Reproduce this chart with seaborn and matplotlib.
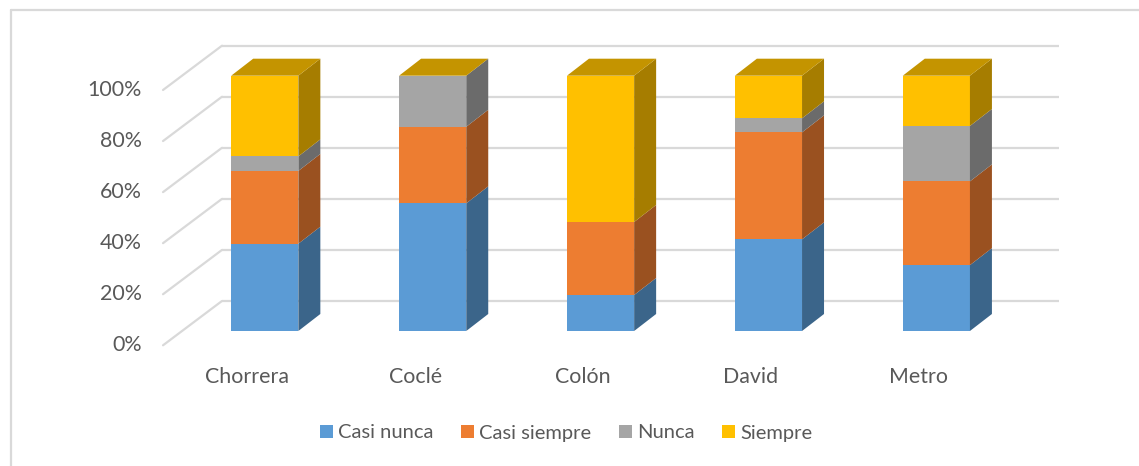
import numpy as np
import pandas as pd
import matplotlib
matplotlib.use("Agg")
import matplotlib.pyplot as plt
from matplotlib.patches import Polygon, Patch
from matplotlib.lines import Line2D
import matplotlib.colors as mcolors
import seaborn as sns

# ---- data (share of answers per region) ----
regions = ["Chorrera", "Coclé", "Colón", "David", "Metro"]
series = ["Casi nunca", "Casi siempre", "Nunca", "Siempre"]
casi_nunca = [0.342, 0.500, 0.141, 0.359, 0.258]
casi_siempre = [0.285, 0.300, 0.286, 0.419, 0.328]
nunca = [0.057, 0.200, 0.000, 0.055, 0.217]
siempre = [0.316, 0.000, 0.573, 0.167, 0.197]
pct_ticks = [0.0, 0.2, 0.4, 0.6, 0.8, 1.0]
pct_labels = ["0%", "20%", "40%", "60%", "80%", "100%"]

colors = ["#5B9BD5", "#ED7D31", "#A5A5A5", "#FFC000"]
text_col = "#595959"
grid_col = "#D9D9D9"

sns.set_theme(style="white")
plt.rcParams["font.family"] = ["Lato", "DejaVu Sans"]

df = pd.DataFrame({"region": regions, "Casi nunca": casi_nunca,
                   "Casi siempre": casi_siempre, "Nunca": nunca,
                   "Siempre": siempre})
vals = df[series].to_numpy()
cum = np.cumsum(vals, axis=1)
bottoms = cum - vals

fig = plt.figure(figsize=(11.39, 4.66), dpi=100)
ax = fig.add_axes([0, 0, 1, 1])

# 3-D look: depth offset of bars and of the back wall
bar_w = 0.40
ddx, ddy = 0.131, 0.0666          # bar depth
wall_dy = 0.1175                  # back wall offset above front baseline
wall_x0, wall_x1 = -0.255, 4.73   # back wall horizontal extent
side_dx, side_dy = -0.351, -0.1735  # left side wall depth

# back wall gridlines + left side wall diagonals
for v, lab in zip(pct_ticks, pct_labels):
    yb = v + wall_dy
    ax.plot([wall_x0, wall_x1], [yb, yb], color=grid_col, lw=1.6,
            zorder=1, solid_capstyle="butt")
    ax.plot([wall_x0, wall_x0 + side_dx], [yb, yb + side_dy],
            color=grid_col, lw=1.6, zorder=1)
    ax.text(wall_x0 + side_dx - 0.125, yb + side_dy, lab, ha="right",
            va="center", fontsize=15.4, color=text_col)

# front faces: stacked with seaborn, drawing cumulative totals back to front
long_cum = pd.DataFrame(cum, columns=series)
long_cum["region"] = regions
for j in range(len(series) - 1, -1, -1):
    sns.barplot(data=long_cum, x="region", y=series[j], color=colors[j],
                saturation=1, width=bar_w, order=regions, ax=ax,
                linewidth=0, zorder=3)


def shade(c, f):
    r, g, b = mcolors.to_rgb(c)
    return (r * f, g * f, b * f)


# side and top faces
for i in range(len(regions)):
    xr = i + bar_w / 2
    xl = i - bar_w / 2
    for j in range(len(series)):
        b, t = bottoms[i, j], cum[i, j]
        if t - b <= 0:
            continue
        ax.add_patch(Polygon([(xr, b), (xr + ddx, b + ddy),
                              (xr + ddx, t + ddy), (xr, t)],
                             closed=True, facecolor=shade(colors[j], 0.65),
                             edgecolor="none", zorder=3))
    top = cum[i, -1]
    ax.add_patch(Polygon([(xl, top), (xr, top), (xr + ddx, top + ddy),
                          (xl + ddx, top + ddy)], closed=True,
                         facecolor=shade(colors[-1], 0.77),
                         edgecolor="none", zorder=3))
    ax.text(i - 0.104, -0.2025, regions[i], ha="center", va="baseline",
            fontsize=15.4, color=text_col)

ax.set_xlim(-1.577, 5.207)
ax.set_ylim(-0.5288, 1.2965)
ax.set_xlabel("")
ax.set_ylabel("")
ax.set_xticks([])
ax.set_yticks([])
for s in ax.spines.values():
    s.set_visible(False)
ax.patch.set_alpha(0)

# legend
handles = [Patch(facecolor=c, edgecolor="none", label=s)
           for c, s in zip(colors, series)]
leg = ax.legend(handles=handles, ncol=4, loc="center",
                bbox_to_anchor=(566 / 1139, 1 - 433 / 466),
                bbox_transform=fig.transFigure, frameon=False,
                fontsize=14.5, handlelength=0.65, handleheight=0.65,
                handletextpad=0.26, columnspacing=1.36, labelcolor=text_col)

# outer chart frame (top and left edges)
fx = 11 / 1139
fy = 1 - 9.5 / 466
fig.add_artist(Line2D([fx, 1], [fy, fy], color=grid_col, lw=1.6,
                      transform=fig.transFigure))
fig.add_artist(Line2D([fx, fx], [0, fy], color=grid_col, lw=1.6,
                      transform=fig.transFigure))

fig.savefig("out.png", dpi=100)
